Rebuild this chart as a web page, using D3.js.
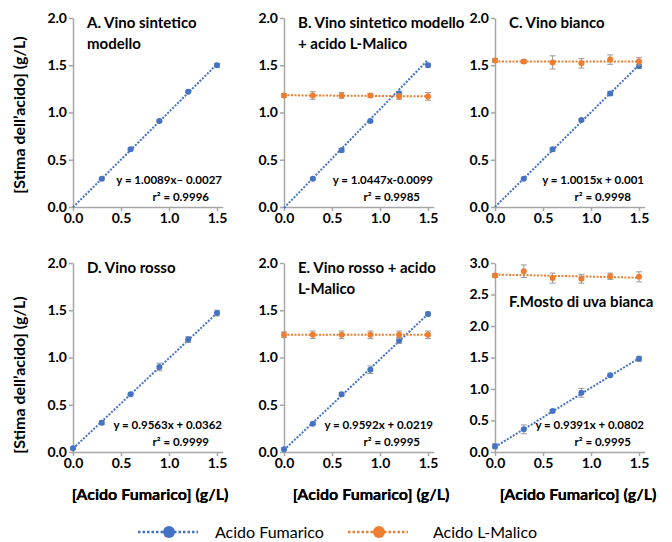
<!DOCTYPE html>
<html>
<head>
<meta charset="utf-8">
<script src="https://cdn.jsdelivr.net/npm/d3@7"></script>
<style>
  body { margin: 0; background: #fff; }
  svg text { font-family: Lato, "Open Sans", sans-serif; }
</style>
</head>
<body>
<svg width="672" height="542"></svg>
<script>
// concentrations of fumaric acid added (g/L)
var xValues = [0, 0.3, 0.6, 0.9, 1.2, 1.5]

var panelTitles = [
  ["A. Vino sintetico", "modello"],
  ["B. Vino sintetico modello", "+ acido L-Malico"],
  ["C. Vino bianco"],
  ["D. Vino rosso"],
  ["E. Vino rosso + acido", "L-Malico"],
  ["F.Mosto di uva bianca"]
]

// estimated fumaric acid (g/L), per panel
var fumarico = [
  [null, 0.30, 0.61, 0.91, 1.22, 1.50],
  [null, 0.30, 0.60, 0.91, 1.20, 1.50],
  [null, 0.30, 0.61, 0.92, 1.20, 1.49],
  [0.04, 0.31, 0.61, 0.90, 1.19, 1.47],
  [0.03, 0.30, 0.61, 0.87, 1.18, 1.46],
  [0.09, 0.36, 0.65, 0.94, 1.22, 1.48]
]
var fumaricoErr = [
  [0, 0.01, 0.01, 0.01, 0.01, 0.02],
  [0, 0.01, 0.02, 0.01, 0.02, 0.02],
  [0, 0.01, 0.02, 0.01, 0.02, 0.02],
  [0.01, 0.02, 0.01, 0.04, 0.03, 0.03],
  [0.01, 0.01, 0.02, 0.04, 0.03, 0.02],
  [0.04, 0.07, 0.02, 0.07, 0.02, 0.04]
]

// estimated L-malic acid (g/L), only where it was present
var malico = [
  null,
  [1.18, 1.18, 1.18, 1.18, 1.17, 1.17],
  [1.55, 1.54, 1.53, 1.52, 1.56, 1.54],
  null,
  [1.24, 1.24, 1.24, 1.24, 1.24, 1.24],
  [2.80, 2.87, 2.76, 2.75, 2.79, 2.78]
]
var malicoErr = [
  null,
  [0.02, 0.04, 0.03, 0.02, 0.03, 0.04],
  [0.02, 0.02, 0.07, 0.05, 0.05, 0.04],
  null,
  [0.03, 0.04, 0.04, 0.04, 0.04, 0.04],
  [0.03, 0.10, 0.08, 0.07, 0.05, 0.08]
]

// regression of the fumaric acid series
var slopes = [1.0089, 1.0447, 1.0015, 0.9563, 0.9592, 0.9391]
var intercepts = [-0.0027, -0.0099, 0.001, 0.0362, 0.0219, 0.0802]
var equations = ["y = 1.0089x\u2013 0.0027", "y = 1.0447x-0.0099", "y = 1.0015x + 0.001",
  "y = 0.9563x + 0.0362", "y = 0.9592x + 0.0219", "y = 0.9391x + 0.0802"]
var r2Labels = ["r\u00b2 = 0.9996", "r\u00b2 = 0.9985", "r\u00b2 = 0.9998",
  "r\u00b2 = 0.9999", "r\u00b2 = 0.9995", "r\u00b2 = 0.9995"]

var yMaxes = [2, 2, 2, 2, 2, 3]
var yTicks = [[0, 0.5, 1, 1.5, 2], [0, 0.5, 1, 1.5, 2], [0, 0.5, 1, 1.5, 2],
  [0, 0.5, 1, 1.5, 2], [0, 0.5, 1, 1.5, 2], [0, 0.5, 1, 1.5, 2, 2.5, 3]]
var xTicks = [0, 0.5, 1.0, 1.5]

var seriesNames = ["Acido Fumarico", "Acido L-Malico"]

var blue = "#4472c4", orange = "#ed7d31", axisGray = "#a6a6a6", errGray = "#9a9a9a"

var svg = d3.select("svg")

var lefts = [73, 284, 495]
var rows = [{top: 18, bottom: 207}, {top: 263, bottom: 452}]
var plotW = 144

function fit(xs, ys) {
  var n = xs.length, mx = d3.mean(xs), my = d3.mean(ys)
  var sxy = d3.sum(xs, (d, i) => (d - mx) * (ys[i] - my))
  var sxx = d3.sum(xs, d => (d - mx) * (d - mx))
  var b = sxy / sxx
  return {slope: b, intercept: my - b * mx}
}

function drawSeries(g, x, y, vals, errs, color, line) {
  // trend line
  g.append("line")
    .attr("x1", x(0)).attr("x2", x(1.5))
    .attr("y1", y(line.intercept)).attr("y2", y(line.slope * 1.5 + line.intercept))
    .attr("stroke", color)
    .attr("stroke-width", 2)
    .attr("stroke-dasharray", "2,1.5")

  var pts = xValues.map((xv, i) => ({x: xv, y: vals[i], e: errs[i]})).filter(d => d.y != null)

  var eb = g.append("g").attr("stroke", errGray).attr("stroke-width", 1)
  pts.filter(d => d.e > 0).forEach(d => {
    eb.append("line").attr("x1", x(d.x)).attr("x2", x(d.x)).attr("y1", y(d.y - d.e)).attr("y2", y(d.y + d.e))
    eb.append("line").attr("x1", x(d.x) - 3).attr("x2", x(d.x) + 3).attr("y1", y(d.y - d.e)).attr("y2", y(d.y - d.e))
    eb.append("line").attr("x1", x(d.x) - 3).attr("x2", x(d.x) + 3).attr("y1", y(d.y + d.e)).attr("y2", y(d.y + d.e))
  })

  g.selectAll(null).data(pts).enter().append("circle")
    .attr("cx", d => x(d.x))
    .attr("cy", d => y(d.y))
    .attr("r", 3)
    .attr("fill", color)
}

panelTitles.forEach((title, p) => {
  var col = p % 3, row = rows[Math.floor(p / 3)]
  var left = lefts[col]
  var x = d3.scaleLinear().domain([0, 1.56]).range([left, left + plotW * 1.56 / 1.5])
  var y = d3.scaleLinear().domain([0, yMaxes[p]]).range([row.bottom, row.top])
  var g = svg.append("g")

  var xAxis = g.append("g")
    .attr("transform", "translate(0," + row.bottom + ")")
    .call(d3.axisBottom(x).tickValues(xTicks).tickFormat(d3.format(".1f")).tickSize(4).tickSizeOuter(0))
  var yAxis = g.append("g")
    .attr("transform", "translate(" + left + ",0)")
    .call(d3.axisLeft(y).tickValues(yTicks[p]).tickFormat(d3.format(".1f")).tickSize(4).tickSizeOuter(0))

  ;[xAxis, yAxis].forEach(a => {
    a.select(".domain").attr("stroke", axisGray).attr("stroke-width", 1.5)
    a.selectAll(".tick line").attr("stroke", axisGray).attr("stroke-width", 1.5)
    a.selectAll(".tick text")
      .attr("fill", "#000")
      .style("font-size", "14px")
      .style("font-weight", "bold")
      .style("font-family", "Lato, sans-serif")
  })
  xAxis.selectAll(".tick text").attr("y", 6)
  yAxis.selectAll(".tick text").attr("x", -6)

  // title
  var titleY = p == 5 ? y(2.3) : row.top + 10
  title.forEach((t, i) => {
    g.append("text")
      .attr("x", left + 14)
      .attr("y", titleY + i * 21)
      .style("font-size", "15px")
      .style("font-weight", "bold")
      .text(t)
  })

  drawSeries(g, x, y, fumarico[p], fumaricoErr[p], blue, {slope: slopes[p], intercept: intercepts[p]})
  if (malico[p]) {
    drawSeries(g, x, y, malico[p], malicoErr[p], orange, fit(xValues, malico[p]))
  }

  // regression text
  var xr = left + plotW + 5
  g.append("text")
    .attr("x", xr).attr("y", row.bottom - 23)
    .attr("text-anchor", "end")
    .style("font-size", "11.5px").style("font-weight", "bold")
    .text(equations[p])
  g.append("text")
    .attr("x", xr - 13).attr("y", row.bottom - 6)
    .attr("text-anchor", "end")
    .style("font-size", "11.5px").style("font-weight", "bold")
    .text(r2Labels[p])

  // x axis label
  g.append("text")
    .attr("x", col == 0 ? 150 : col == 1 ? 371 : 578)
    .attr("y", 500)
    .attr("text-anchor", "middle")
    .style("font-size", "16px").style("font-weight", "bold")
    .text("[Acido Fumarico] (g/L)")
})

// y axis labels
;[115, 375].forEach(cy => {
  svg.append("text")
    .attr("transform", "translate(25," + cy + ") rotate(-90)")
    .attr("text-anchor", "middle")
    .style("font-size", "16px").style("font-weight", "bold")
    .text("[Stima dell\u2019acido] (g/L)")
})

// legend
var legend = svg.append("g").attr("transform", "translate(0,532)")
var legX = [138, 348]
seriesNames.forEach((name, i) => {
  var c = i == 0 ? blue : orange
  legend.append("line")
    .attr("x1", legX[i]).attr("x2", legX[i] + 60)
    .attr("stroke", c).attr("stroke-width", 2.5).attr("stroke-dasharray", "2.5,2")
  legend.append("circle").attr("cx", legX[i] + 31).attr("r", 6).attr("fill", c)
  legend.append("text")
    .attr("x", i == 0 ? 215 : 433)
    .attr("y", 5.5)
    .style("font-size", "16px")
    .text(name)
})
</script>
</body>
</html>
